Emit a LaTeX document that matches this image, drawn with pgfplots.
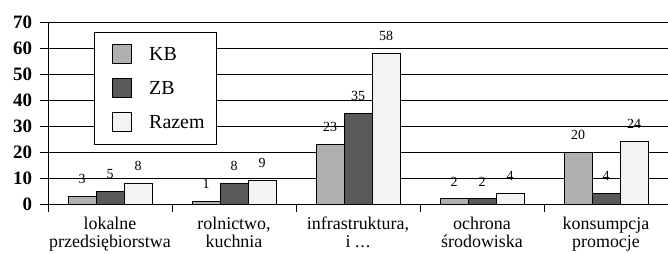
\documentclass[border=0pt]{standalone}
\usepackage{pgfplots}
\pgfplotsset{compat=1.18}
\usepackage{fontspec}
\setmainfont{Liberation Serif}
\definecolor{kb}{HTML}{B0B0B0}
\definecolor{zb}{HTML}{595959}
\definecolor{rz}{HTML}{F3F3F3}
\newcommand{\threedots}{.\kern0.05em.\kern0.05em.}
\begin{document}
\begin{tikzpicture}
\begin{axis}[
  name=ax,
  scale only axis,
  width=620bp, height=182bp,
  xmin=-0.5, xmax=4.5,
  ymin=0, ymax=70,
  ytick={0,10,20,30,40,50,60,70},
  ymajorgrids,
  grid style={black, line width=0.9pt},
  axis x line*=bottom,
  axis y line*=left,
  axis line style={black, line width=0.9pt},
  y axis line style={-},
  x axis line style={-},
  xtick={0,1,2,3,4},
  xticklabels={{lokalne\\przedsiębiorstwa},{rolnictwo,\\kuchnia},{infrastruktura,\\i \threedots},{ochrona\\środowiska},{konsumpcja\\promocje}},
  xticklabel style={align=center, font=\fontsize{18}{18}\selectfont, inner sep=2bp, yshift=-3bp},
  major x tick style={draw=none},
  minor xtick={-0.5,0.5,1.5,2.5,3.5},
  minor tick length=8bp,
  minor x tick style={black, line width=0.9pt},
  tick align=outside,
  major tick length=8bp,
  major y tick style={black, line width=0.9pt},
  yticklabel style={font=\fontsize{19}{19}\selectfont\bfseries, xshift=-4.5bp},
  /pgf/number format/assume math mode=true,
  ybar=0pt,
  bar width=28bp,
  nodes near coords,
  every node near coord/.append style={font=\fontsize{14}{14}\selectfont, yshift=9bp},
  legend style={at={(0.074,0.945)}, anchor=north west, draw=black, line width=0.9pt,
    font=\fontsize{20}{20}\selectfont, row sep=14bp, column sep=17bp,
    inner xsep=12bp, inner ysep=12bp,
    nodes={inner sep=0pt, text height=13bp, text depth=0pt}},
  legend image code/.code={\path (0bp,0bp); \draw[#1, line width=0.9pt] (6bp,-9.5bp) rectangle (25bp,9.5bp);},
  legend cell align=left,
]
\addplot[fill=kb, draw=black, line width=0.9pt] coordinates {(0,3) (1,1) (2,23) (3,2) (4,20)};
\addplot[fill=zb, draw=black, line width=0.9pt] coordinates {(0,5) (1,8) (2,35) (3,2) (4,4)};
\addplot[fill=rz, draw=black, line width=0.9pt] coordinates {(0,8) (1,9) (2,58) (3,4) (4,24)};
\legend{KB,ZB,Razem}
\end{axis}
\pgfresetboundingbox
\path ([xshift=-48bp,yshift=-50bp]ax.south west) rectangle ([yshift=22bp]ax.north east);
\end{tikzpicture}
\end{document}
